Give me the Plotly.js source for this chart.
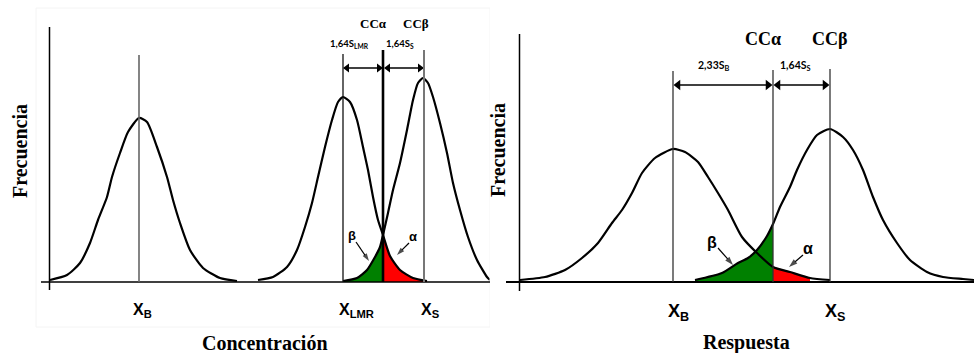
<!DOCTYPE html>
<html>
<head>
<meta charset="utf-8">
<script src="https://cdn.plot.ly/plotly-3.0.1.min.js"></script>
<style>html,body{margin:0;padding:0;background:#fff}#chart{width:974px;height:353px}</style>
</head>
<body>
<div id="chart"></div>
<script>
// ---- Left panel (Concentración): curves ----
const concBlankX = [50, 67, 80, 90, 98, 107, 112, 120, 128, 139, 147, 157, 167, 173, 180, 190, 203, 220, 237];
const concBlankY = [2, 7, 19, 39, 62, 85, 105, 129, 150, 164, 160, 135, 105, 82, 59, 32, 14, 4, 1];
const concLmrX = [258, 273, 287, 297, 305, 312, 318, 325, 332, 338, 343, 350, 357, 363, 368, 373, 378, 383, 390, 400, 413, 427];
const concLmrY = [2, 5, 15, 32, 55, 79, 105, 135, 162, 180, 185, 180, 162, 135, 112, 85, 62, 47, 26, 12, 4, 1];
const concSX = [343, 357, 367, 375, 380, 383, 388, 393, 400, 407, 413, 418, 423, 428, 433, 440, 447, 453, 460, 468, 477, 487, 490];
const concSY = [1, 4, 12, 25, 35, 47, 69, 92, 119, 152, 182, 199, 204, 199, 185, 159, 129, 99, 72, 45, 22, 5, 2];
// marker positions: X_B, X_LMR, CCalpha, X_S
const concMarkers = [139, 343, 383, 424];

// ---- Right panel (Respuesta) ----
const respBlankX = [520, 545, 565, 582, 598, 612, 622, 632, 642, 655, 673, 685, 698, 708, 718, 728, 742, 757, 773, 790, 810, 830];
const respBlankY = [2, 5, 12, 24, 39, 59, 72, 89, 109, 124, 133, 130, 120, 105, 89, 72, 45, 29, 15, 10, 4, 2];
const respSX = [695, 722, 738, 748, 757, 767, 773, 780, 790, 797, 807, 817, 830, 843, 853, 863, 873, 883, 897, 910, 927, 943, 963, 974];
const respSY = [2, 9, 19, 24, 32, 46, 58, 75, 95, 112, 132, 147, 153, 145, 132, 112, 85, 62, 39, 22, 10, 5, 3, 2];
// marker positions: X_B, CCalpha, X_S
const respMarkers = [673, 773, 830];

// text labels
const leftTickLabels = ['X<sub>B</sub>', 'X<sub>LMR</sub>', 'X<sub>S</sub>'];
const rightTickLabels = ['X<sub>B</sub>', 'X<sub>S</sub>'];
const leftDistLabels = ['1,64S<sub>LMR</sub>', '1,64S<sub>S</sub>'];
const rightDistLabels = ['2,33S<sub>B</sub>', '1,64S<sub>S</sub>'];
const ccLabels = ['CCα', 'CCβ'];
const xTitles = ['Concentración', 'Respuesta'];
const yTitle = 'Frecuencia';

function slice(xs, ys, lo, hi) {
  const X = [], Y = [];
  xs.forEach((x, i) => { if (x >= lo && x <= hi) { X.push(x); Y.push(ys[i]); } });
  return {x: X, y: Y};
}

const curveLine = {color: '#000', width: 2.2, shape: 'spline', smoothing: 0.6};
const gL = slice(concSX, concSY, concMarkers[1], concMarkers[2]);
const rL = slice(concLmrX, concLmrY, concMarkers[2], 1000);
const gR = slice(respSX, respSY, 0, respMarkers[1]);
const rR = slice(respBlankX, respBlankY, respMarkers[1], 815);

const fillTrace = (p, xa, ya, col) => ({x: p.x, y: p.y, xaxis: xa, yaxis: ya, type: 'scatter', mode: 'lines',
  fill: 'tozeroy', fillcolor: col, line: {color: col, width: 0.5, shape: 'spline', smoothing: 0.6}, hoverinfo: 'skip'});
const curve = (x, y, xa, ya) => ({x: x, y: y, xaxis: xa, yaxis: ya, type: 'scatter', mode: 'lines', line: curveLine, hoverinfo: 'skip'});

// double-headed horizontal arrow: a line with triangle heads at both ends
const dblArrow = (xa, ya, x0, x1, y, sz) => ({x: [x0, x1], y: [y, y], xaxis: xa, yaxis: ya, type: 'scatter', mode: 'lines+markers',
  line: {color: '#000', width: 1.5},
  marker: {symbol: ['triangle-left', 'triangle-right'], size: sz, color: '#000', line: {width: 0}}, hoverinfo: 'skip'});
// single pointer arrow from tail to head
const ptrArrow = (xa, ya, tx, ty, hx, hy, sz) => ({x: [tx, hx], y: [ty, hy], xaxis: xa, yaxis: ya, type: 'scatter', mode: 'lines+markers',
  line: {color: '#000', width: 1.2},
  marker: {symbol: 'arrow', angleref: 'previous', size: [0, sz], color: '#000', line: {width: 0}}, hoverinfo: 'skip'});

const data = [
  fillTrace(gL, 'x', 'y', '#008000'),
  fillTrace(rL, 'x', 'y', '#ff0000'),
  fillTrace(gR, 'x2', 'y2', '#008000'),
  fillTrace(rR, 'x2', 'y2', '#ff0000'),
  curve(concBlankX, concBlankY, 'x', 'y'),
  curve(concLmrX, concLmrY, 'x', 'y'),
  curve(concSX, concSY, 'x', 'y'),
  curve(respBlankX, respBlankY, 'x2', 'y2'),
  curve(respSX, respSY, 'x2', 'y2'),
  dblArrow('x', 'y', concMarkers[1] + 4, concMarkers[2] - 4, 214, 8),
  dblArrow('x', 'y', concMarkers[2] + 5, concMarkers[3] - 4, 214, 8),
  dblArrow('x2', 'y2', respMarkers[0] + 5, respMarkers[1] - 5, 197, 9),
  dblArrow('x2', 'y2', respMarkers[1] + 5, respMarkers[2] - 5, 197, 9),
  ptrArrow('x', 'y', 356, 40, 369, 21, 8),
  ptrArrow('x', 'y', 409, 39, 397, 27, 8),
  ptrArrow('x2', 'y2', 718, 34, 733, 17, 9),
  ptrArrow('x2', 'y2', 803, 27, 789, 15, 9)
];

const vline = (xr, yr, x, top, color, w) => ({type: 'line', xref: xr, yref: yr, x0: x, x1: x, y0: 0, y1: top, line: {color: color, width: w}, layer: 'above'});
const hline = (xr, yr, x0, x1, y, color, w) => ({type: 'line', xref: xr, yref: yr, x0: x0, x1: x1, y0: y, y1: y, line: {color: color, width: w}});

const shapes = [
  {type: 'rect', xref: 'x', yref: 'y', x0: 36, x1: 490, y0: -45, y1: 274, line: {color: '#f4f4f4', width: 1}},
  // axes
  {type: 'line', xref: 'x', yref: 'y', x0: 49.5, x1: 49.5, y0: -8, y1: 255, line: {color: '#000', width: 1.5}},
  hline('x', 'y', 41, 490, 0, '#000', 1.6),
  {type: 'line', xref: 'x2', yref: 'y2', x0: 519.5, x1: 519.5, y0: -9, y1: 248, line: {color: '#000', width: 1.5}},
  hline('x2', 'y2', 506, 974, 0, '#000', 1.8),
  // marker lines left
  vline('x', 'y', concMarkers[0], 227, '#666', 1.6),
  vline('x', 'y', concMarkers[1], 228, '#111', 1.3),
  vline('x', 'y', concMarkers[2], 232, '#000', 2.6),
  vline('x', 'y', concMarkers[3], 232, '#777', 2),
  // marker lines right
  vline('x2', 'y2', respMarkers[0], 211, '#333', 1.3),
  vline('x2', 'y2', respMarkers[1], 212, '#333', 1.3),
  vline('x2', 'y2', respMarkers[2], 213, '#333', 1.3)
];

const serif = 'Liberation Serif, Times New Roman, serif';
const sans = 'Liberation Sans, Arial, sans-serif';
const cal = 'Lato, Noto Sans, sans-serif';
const txt = (xr, yr, x, y, text, font, size, angle) => ({xref: xr, yref: yr, x: x, y: y, text: text, showarrow: false,
  xanchor: 'center', yanchor: 'middle', textangle: angle || 0, font: {family: font, size: size, color: '#000'}});

const annotations = [
  // left panel
  txt('x', 'y', 373, 259, '<b>' + ccLabels[0] + '</b>', serif, 13),
  txt('x', 'y', 416, 259, '<b>' + ccLabels[1] + '</b>', serif, 13),
  txt('x', 'y', 349, 238, '<b>' + leftDistLabels[0] + '</b>', cal, 9.5),
  txt('x', 'y', 400, 238, '<b>' + leftDistLabels[1] + '</b>', cal, 9.5),
  txt('x', 'y', 142, -28, '<b>' + leftTickLabels[0] + '</b>', sans, 16),
  txt('x', 'y', 356, -28, '<b>' + leftTickLabels[1] + '</b>', sans, 16),
  txt('x', 'y', 430, -28, '<b>' + leftTickLabels[2] + '</b>', sans, 16),
  txt('x', 'y', 265, -61, '<b>' + xTitles[0] + '</b>', serif, 20),
  txt('x', 'y', 20, 131, '<b>' + yTitle + '</b>', serif, 20, -90),
  txt('x', 'y', 352, 47, '<b>β</b>', sans, 13),
  txt('x', 'y', 413, 46, '<b>α</b>', sans, 13),
  // right panel
  txt('x2', 'y2', 763, 243, '<b>' + ccLabels[0] + '</b>', serif, 18),
  txt('x2', 'y2', 829, 243, '<b>' + ccLabels[1] + '</b>', serif, 18),
  txt('x2', 'y2', 714, 216, '<b>' + rightDistLabels[0] + '</b>', cal, 10.5),
  txt('x2', 'y2', 795, 216, '<b>' + rightDistLabels[1] + '</b>', cal, 10.5),
  txt('x2', 'y2', 678, -30, '<b>' + rightTickLabels[0] + '</b>', sans, 18),
  txt('x2', 'y2', 835, -30, '<b>' + rightTickLabels[1] + '</b>', sans, 18),
  txt('x2', 'y2', 746, -60, '<b>' + xTitles[1] + '</b>', serif, 20),
  txt('x2', 'y2', 498, 132, '<b>' + yTitle + '</b>', serif, 20, -90),
  txt('x2', 'y2', 712, 40, '<b>β</b>', sans, 16),
  txt('x2', 'y2', 808, 34, '<b>α</b>', sans, 16)
];

const hidden = {visible: false, fixedrange: true};
const layout = {
  width: 974, height: 353,
  margin: {l: 0, r: 0, t: 0, b: 0},
  paper_bgcolor: '#fff', plot_bgcolor: 'rgba(0,0,0,0)',
  showlegend: false,
  xaxis: Object.assign({domain: [0, 490 / 974], range: [0, 490]}, hidden),
  yaxis: Object.assign({domain: [0, 1], range: [-71, 282]}, hidden),
  xaxis2: Object.assign({domain: [490 / 974, 1], range: [490, 974], anchor: 'y2'}, hidden),
  yaxis2: Object.assign({domain: [0, 1], range: [-71, 282], anchor: 'x2'}, hidden),
  shapes: shapes,
  annotations: annotations
};

Plotly.newPlot('chart', data, layout, {displayModeBar: false, staticPlot: true});
</script>
</body>
</html>
